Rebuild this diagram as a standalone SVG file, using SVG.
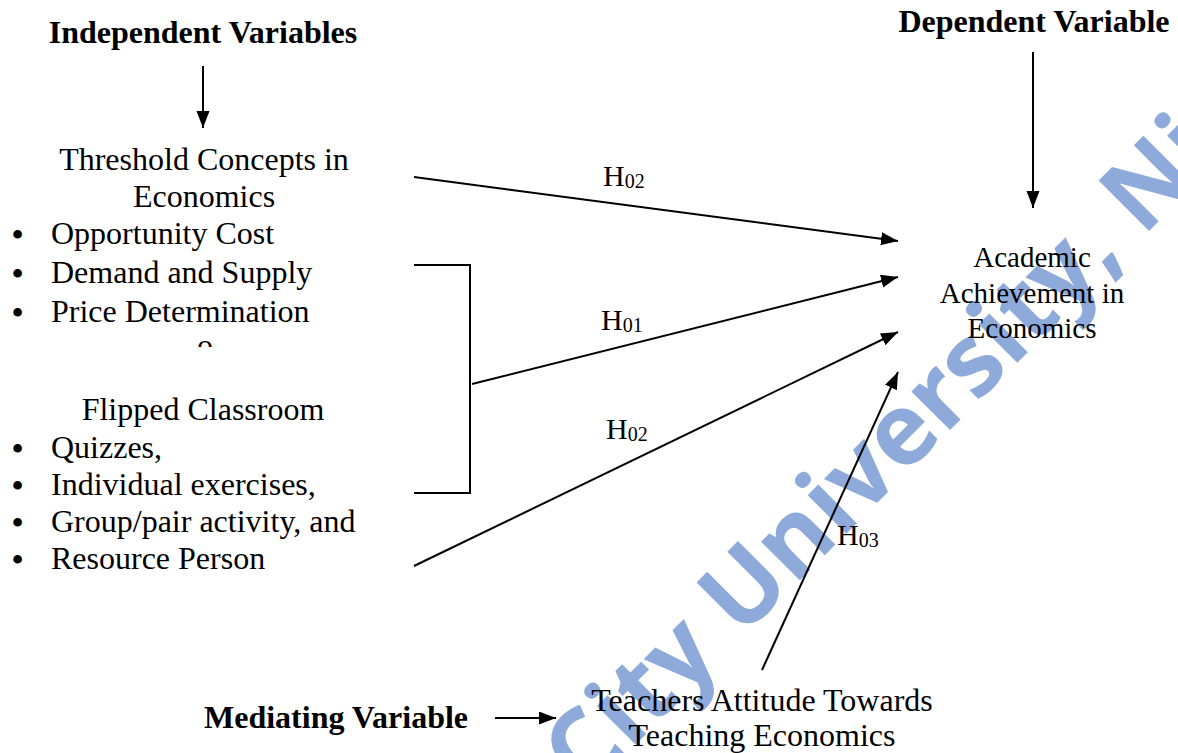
<svg xmlns="http://www.w3.org/2000/svg" width="1178" height="753" viewBox="0 0 1178 753">
<style>
.t{font-family:"Liberation Serif","Times New Roman",serif;font-size:32px;fill:#000}
.bu{font-weight:bold}
.b{font-family:"Liberation Serif","Times New Roman",serif;font-size:32px;font-weight:bold;fill:#000}
.a{font-family:"Liberation Serif","Times New Roman",serif;font-size:29px;fill:#000}
.h{font-family:"Liberation Serif","Times New Roman",serif;font-size:30px;fill:#000}
.s{font-size:20px}
.c{text-anchor:middle}
.ln{stroke:#000;stroke-width:2;fill:none}
.wm{font-family:"Open Sans","Noto Sans",sans-serif;font-size:100px;font-weight:700;fill:#8eaadb}
</style>
<defs>
<marker id="ah" markerUnits="userSpaceOnUse" markerWidth="18" markerHeight="14" refX="17" refY="6.5" orient="auto">
<path d="M0,0 L17,6.5 L0,13 z" fill="#000"/>
</marker>
<clipPath id="clipO"><rect x="150" y="300" width="120" height="47"/></clipPath>
</defs>
<rect width="1178" height="753" fill="#fff"/>
<g id="watermark">
<text class="wm" transform="translate(585,795) rotate(-45)">City University, Ni</text>
</g>
<g id="connectors">
<line class="ln" x1="203" y1="66" x2="203" y2="128" marker-end="url(#ah)"/>
<line class="ln" x1="1033" y1="52" x2="1033" y2="208" marker-end="url(#ah)"/>
<line class="ln" x1="495" y1="718" x2="556" y2="718" marker-end="url(#ah)"/>
<line class="ln" x1="414" y1="177" x2="898" y2="241" marker-end="url(#ah)"/>
<polyline class="ln" points="414,265 470,265 470,493 414,493"/>
<line class="ln" x1="472" y1="384" x2="898" y2="277" marker-end="url(#ah)"/>
<line class="ln" x1="414" y1="566" x2="898" y2="332" marker-end="url(#ah)"/>
<line class="ln" x1="762" y1="670" x2="898" y2="372" marker-end="url(#ah)"/>
<text class="h" x="603" y="186">H<tspan class="s" dy="2">02</tspan></text>
<text class="h" x="601" y="330">H<tspan class="s" dy="2">01</tspan></text>
<text class="h" x="606" y="439">H<tspan class="s" dy="2">02</tspan></text>
<text class="h" x="837" y="545">H<tspan class="s" dy="2">03</tspan></text>
</g>
<g id="independent-heading">
<text class="b c" x="203" y="43">Independent Variables</text>
</g>
<g id="dependent-heading">
<text class="b c" x="1034" y="32">Dependent Variable</text>
</g>
<g id="threshold-concepts">
<text class="t c" x="204" y="170">Threshold Concepts in</text>
<text class="t c" x="204" y="207">Economics</text>
<text class="t" y="245"><tspan class="bu" x="12">•</tspan><tspan x="51" dy="-1">Opportunity Cost</tspan></text>
<text class="t" y="284"><tspan class="bu" x="12">•</tspan><tspan x="51" dy="-1">Demand and Supply</tspan></text>
<text class="t" y="323"><tspan class="bu" x="12">•</tspan><tspan x="51" dy="-1">Price Determination</tspan></text>
<text class="t c" x="205" y="356" clip-path="url(#clipO)">o</text>
</g>
<g id="flipped-classroom">
<text class="t c" x="203" y="420">Flipped Classroom</text>
<text class="t" y="459"><tspan class="bu" x="12">•</tspan><tspan x="51" dy="-1">Quizzes,</tspan></text>
<text class="t" y="496"><tspan class="bu" x="12">•</tspan><tspan x="51" dy="-1">Individual exercises,</tspan></text>
<text class="t" y="533"><tspan class="bu" x="12">•</tspan><tspan x="51" dy="-1">Group/pair activity, and</tspan></text>
<text class="t" y="570"><tspan class="bu" x="12">•</tspan><tspan x="51" dy="-1">Resource Person</tspan></text>
</g>
<g id="academic-achievement">
<text class="a c" x="1032" y="267">Academic</text>
<text class="a c" x="1032" y="303">Achievement in</text>
<text class="a c" x="1032" y="338">Economics</text>
</g>
<g id="mediating-heading">
<text class="b" x="204" y="728">Mediating Variable</text>
</g>
<g id="teachers-attitude">
<text class="t c" x="762" y="711">Teachers Attitude Towards</text>
<text class="t c" x="762" y="746">Teaching Economics</text>
</g>
</svg>
